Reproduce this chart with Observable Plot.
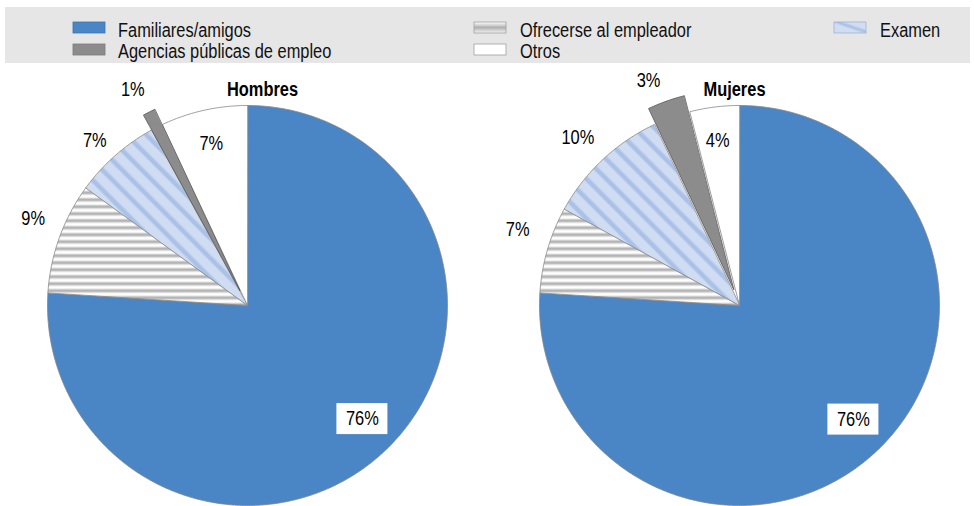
<!DOCTYPE html>
<html><head><meta charset="utf-8">
<script src="https://cdn.jsdelivr.net/npm/d3@7"></script>
<script src="https://cdn.jsdelivr.net/npm/@observablehq/plot@0.6"></script>
<style>
body{margin:0;background:#fff;font-family:'Liberation Sans',Arial,sans-serif;}
#legend{position:absolute;left:5px;top:7px;width:965px;height:56px;background:#e6e6e6;}
#chart{position:absolute;left:0;top:63px;}
</style></head><body>
<svg width="0" height="0" style="position:absolute">
<defs>
<linearGradient id="hgrad" x1="0" y1="0" x2="0" y2="1">
  <stop offset="0" stop-color="#ffffff"/><stop offset="0.5" stop-color="#a4a4a4"/><stop offset="1" stop-color="#ffffff"/>
</linearGradient>
<pattern id="hstripes" patternUnits="userSpaceOnUse" width="10" height="7">
  <rect width="10" height="7" fill="#ffffff"/>
  <rect y="0.5" width="10" height="5.5" fill="url(#hgrad)"/>
</pattern>
<linearGradient id="dgrad" x1="0" y1="0" x2="0" y2="1">
  <stop offset="0" stop-color="#d0dcf1"/><stop offset="0.3" stop-color="#a9c1e7"/><stop offset="0.7" stop-color="#a9c1e7"/><stop offset="1" stop-color="#d0dcf1"/>
</linearGradient>
<pattern id="dstripes" patternUnits="userSpaceOnUse" width="14" height="14" patternTransform="rotate(45)">
  <rect width="14" height="14" fill="#d0dcf1"/>
  <rect y="0" width="14" height="6.5" fill="url(#dgrad)"/>
</pattern>
<linearGradient id="swh" x1="0" y1="0" x2="0" y2="1">
  <stop offset="0" stop-color="#ffffff"/><stop offset="0.5" stop-color="#b0b0b0"/><stop offset="1" stop-color="#f4f4f4"/>
</linearGradient>
<linearGradient id="swd" x1="0" y1="1" x2="1" y2="0">
  <stop offset="0" stop-color="#d2ddf1"/><stop offset="0.42" stop-color="#d2ddf1"/><stop offset="0.55" stop-color="#a6bfe6"/><stop offset="0.68" stop-color="#d2ddf1"/><stop offset="1" stop-color="#d2ddf1"/>
</linearGradient>
</defs>
</svg>
<div id="legend"></div>
<div id="chart"></div>
<script>
// ---- data ----
const categories = ["Familiares/amigos", "Ofrecerse al empleador", "Examen", "Agencias públicas de empleo", "Otros"];
const panels = ["Hombres", "Mujeres"];
const valuesHombres = [76, 9, 7, 1, 7];
const valuesMujeres = [76, 7, 10, 3, 4];
const explodedCategory = "Agencias públicas de empleo";
const legendItems = ["Familiares/amigos", "Agencias públicas de empleo", "Ofrecerse al empleador", "Otros", "Examen"];

// ---- styles / layout ----
const fills = ["#4a86c6", "url(#hstripes)", "url(#dstripes)", "#8c8c8c", "#ffffff"];
const swatchFills = {"Familiares/amigos":"#4a86c6","Agencias públicas de empleo":"#8c8c8c","Ofrecerse al empleador":"url(#swh)","Otros":"#ffffff","Examen":"url(#swd)"};
const swatchStrokes = {"Familiares/amigos":"#3f74ad","Agencias públicas de empleo":"#7a7a7a","Ofrecerse al empleador":"#a0a0a0","Otros":"#a0a0a0","Examen":"#9fb3d6"};
const labelMode = {"Familiares/amigos":"box","Ofrecerse al empleador":"out","Examen":"out","Agencias públicas de empleo":"out","Otros":"in"};
// small label nudges (dx, dy) in pixels, per panel, in category order
const labelNudge = {
  "Hombres": [[4, -4.5], [3, -9], [0, 8], [-3.5, 2.5], [0, 0]],
  "Mujeres": [[3, -4], [0, -11], [-3.5, 0], [-8, 6], [-1, 0]]
};
const FONT = "'Liberation Sans',Arial,sans-serif";
const NARROW = 0.82; // emulate Arial Narrow
const W = 974, H = 443;
const cx = [247, 739], cy = 242, R = 200, explode = 17;
const titleX = [262, 734], titleY = 26.5;

const rows = [], labels = [];
panels.forEach((p, pi) => {
  const vals = pi === 0 ? valuesHombres : valuesMujeres;
  const total = d3.sum(vals);
  let cum = 0;
  vals.forEach((v, ci) => {
    const cat = categories[ci];
    const a0 = cum / total * 2 * Math.PI; cum += v;
    const a1 = cum / total * 2 * Math.PI;
    const am = (a0 + a1) / 2;
    const off = cat === explodedCategory ? explode : 0;
    const ox = cx[pi] + off * Math.sin(am), oy = cy - off * Math.cos(am);
    const key = p + "|" + cat;
    const exploded = off > 0;
    rows.push({key, cat, x: ox, y: oy, exploded});
    const n = Math.max(2, Math.ceil((a1 - a0) / (Math.PI / 360)));
    for (let k = 0; k <= n; k++) {
      const a = a0 + (a1 - a0) * k / n;
      rows.push({key, cat, x: ox + R * Math.sin(a), y: oy - R * Math.cos(a), exploded});
    }
    const mode = labelMode[cat];
    const lr = mode === "out" ? (exploded ? 245 : 231) : mode === "in" ? 166 : 162;
    const [ndx, ndy] = labelNudge[p][ci];
    labels.push({panel: p, cat, mode, text: v + "%",
      x: cx[pi] + lr * Math.sin(am) + ndx, y: cy - lr * Math.cos(am) + ndy});
  });
});

const chart = Plot.plot({
  width: W, height: H, margin: 0,
  style: {fontFamily: FONT, fontSize: "20px", background: "transparent"},
  x: {domain: [0, W], range: [0, W], axis: null},
  y: {domain: [0, H], range: [0, H], axis: null},
  color: {domain: categories, range: fills},
  marks: [
    Plot.line(rows.filter(d => !d.exploded), {x: "x", y: "y", z: "key", fill: "cat", stroke: "#858585", strokeWidth: 0.8, curve: "linear-closed"}),
    Plot.line(rows.filter(d => d.exploded), {x: "x", y: "y", z: "key", fill: "cat", stroke: "#555555", strokeWidth: 0.8, curve: "linear-closed"}),
    Plot.rect(labels.filter(d => d.mode === "box"), {x1: d => d.x - 25.5, x2: d => d.x + 25.5, y1: d => d.y - 15.5, y2: d => d.y + 15.5, fill: "white"}),
    Plot.text(labels, {x: "x", y: "y", text: "text", fontSize: 20, fill: "#000", fontFamily: FONT}),
    Plot.text(panels, {x: (d, i) => titleX[i], y: () => titleY, text: d => d, fontSize: 20, fontWeight: "bold", fill: "#000", fontFamily: FONT})
  ]
});
document.getElementById("chart").appendChild(chart);

// ---- legend ----
const legCols = {"Familiares/amigos":0,"Agencias públicas de empleo":0,"Ofrecerse al empleador":1,"Otros":1,"Examen":2};
const legRows = {"Familiares/amigos":0,"Agencias públicas de empleo":1,"Ofrecerse al empleador":0,"Otros":1,"Examen":0};
const swX = [68, 469, 829], txX = [113, 515, 875], swY = [15, 37], txY = [29.5, 51];
const leg = d3.select("#legend").append("svg").attr("width", 965).attr("height", 56);
legendItems.forEach(name => {
  const c = legCols[name], r = legRows[name];
  leg.append("rect").attr("x", swX[c]).attr("y", swY[r]).attr("width", 32).attr("height", 11)
    .attr("fill", swatchFills[name]).attr("stroke", swatchStrokes[name]).attr("stroke-width", 0.8);
  leg.append("text").attr("x", txX[c]).attr("y", txY[r])
    .attr("font-size", 20).attr("font-family", FONT).attr("fill", "#111").text(name);
});

// condense every text horizontally (Arial Narrow look), keeping anchors
document.querySelectorAll("#chart text, #legend text").forEach(t => {
  const L = t.getComputedTextLength();
  if (L > 0) {
    t.setAttribute("textLength", (L * NARROW).toFixed(2));
    t.setAttribute("lengthAdjust", "spacingAndGlyphs");
  }
});
</script>
</body></html>
